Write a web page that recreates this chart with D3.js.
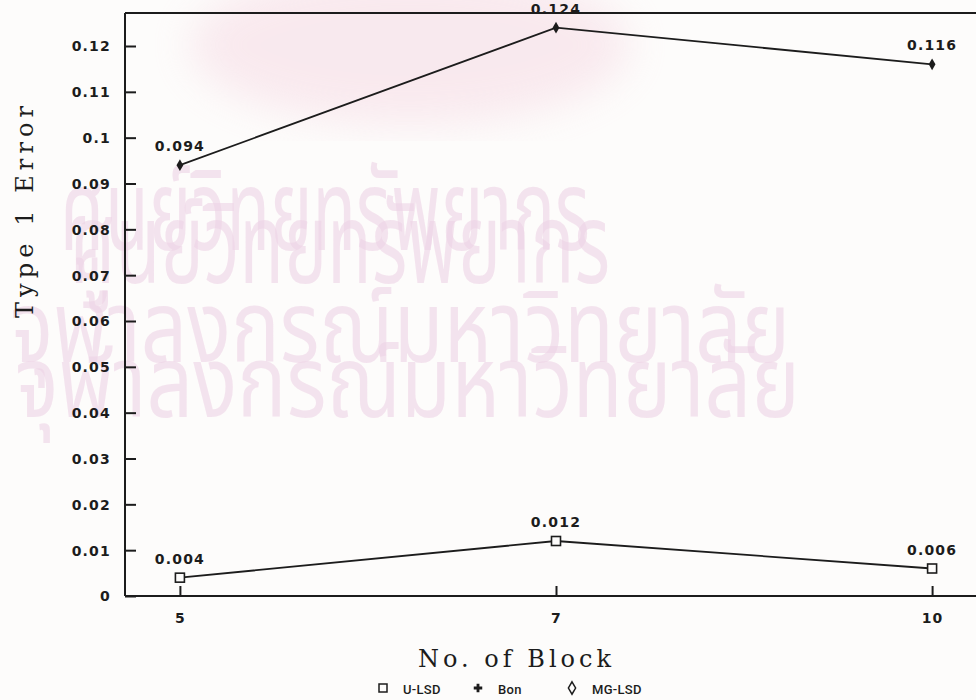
<!DOCTYPE html>
<html>
<head>
<meta charset="utf-8">
<script src="https://cdn.jsdelivr.net/npm/d3@7"></script>
<style>
  html, body { margin: 0; padding: 0; background: #fdfcfb; }
  svg { display: block; }
</style>
</head>
<body>
<svg id="chart" width="976" height="700"></svg>
<script>
// Number of blocks on the x axis
const blocks = ["5", "7", "10"];
// Type 1 error rates per method
const uLsd = [0.004, 0.012, 0.006];
const mgLsd = [0.094, 0.124, 0.116];
const bon = [];
// Y axis tick values
const yTicks = [0, 0.01, 0.02, 0.03, 0.04, 0.05, 0.06, 0.07, 0.08, 0.09, 0.1, 0.11, 0.12];
const legendItems = ["U-LSD", "Bon", "MG-LSD"];
// Background library stamp lines
const stampLines = ["ศูนย์วิทยทรัพยากร", "จุฬาลงกรณ์มหาวิทยาลัย"];

const svg = d3.select("#chart");
const W = 976, H = 700;
const plotLeft = 125, plotTop = 13, plotBottom = 596;

const x = d3.scalePoint().domain(blocks).range([plotLeft, 987]).padding(0.146);
const y = d3.scaleLinear().domain([0, 0.1272]).range([plotBottom, plotTop]);

// faint stamp behind the plot
const defs = svg.append("defs");
defs.append("filter").attr("id", "soft").append("feGaussianBlur").attr("stdDeviation", 20);
svg.append("ellipse").attr("cx", 410).attr("cy", 45).attr("rx", 220).attr("ry", 80)
  .attr("fill", "#f4d3df").attr("opacity", 0.45).attr("filter", "url(#soft)");

const stamp = svg.append("g").attr("fill", "#eed4e6").attr("font-family", "'Noto Sans Thai', 'Noto Sans', sans-serif");
[[0, 60, 250, 530, 112], [0, 70, 283, 540, 112], [1, 10, 362, 780, 100], [1, 15, 417, 785, 100]].forEach(([i, sx, sy, len, fs]) => {
  stamp.append("text").attr("x", sx).attr("y", sy).attr("font-size", fs)
    .attr("textLength", len).attr("lengthAdjust", "spacingAndGlyphs")
    .attr("opacity", 0.6).text(stampLines[i]);
});

const ink = "#1c1c1c";
const tickFont = "'DejaVu Sans', sans-serif";

// frame lines: top border, left and bottom axes
svg.append("line").attr("x1", plotLeft).attr("x2", W).attr("y1", plotTop).attr("y2", plotTop)
  .attr("stroke", ink).attr("stroke-width", 2);

const yAxis = svg.append("g").attr("transform", `translate(${plotLeft},0)`)
  .call(d3.axisRight(y).tickValues(yTicks).tickSize(11).tickFormat(d => d3.format("")(+d.toFixed(2))));
yAxis.select(".domain").attr("d", `M0,${plotTop}V${plotBottom}`);
yAxis.selectAll("text").attr("x", -14).attr("text-anchor", "end");

const xAxis = svg.append("g").attr("transform", `translate(0,${plotBottom})`)
  .call(d3.axisTop(x).tickSize(10));
xAxis.select(".domain").attr("d", `M${plotLeft},0H${W}`);
xAxis.selectAll("text").attr("y", 27);

[yAxis, xAxis].forEach(a => {
  a.selectAll(".domain, line").attr("stroke", ink).attr("stroke-width", 2);
  a.selectAll("text").attr("fill", ink).attr("font-family", tickFont).attr("font-weight", "bold")
    .attr("font-size", 14).attr("letter-spacing", 1.2);
});
yAxis.selectAll("text").attr("dy", "0.35em");

// series lines
const line = d3.line().x((d, i) => x(blocks[i])).y(d => y(d));
[mgLsd, uLsd].forEach(s => {
  svg.append("path").attr("d", line(s)).attr("fill", "none").attr("stroke", ink).attr("stroke-width", 1.8);
});

// MG-LSD markers: filled diamonds
svg.selectAll(".mg").data(mgLsd).join("path")
  .attr("transform", (d, i) => `translate(${x(blocks[i])},${y(d)})`)
  .attr("d", d3.symbol(d3.symbolDiamond, 40)).attr("fill", ink);

// U-LSD markers: open squares
svg.selectAll(".ul").data(uLsd).join("rect")
  .attr("x", (d, i) => x(blocks[i]) - 4.5).attr("y", d => y(d) - 4.5)
  .attr("width", 9).attr("height", 9).attr("fill", "#fdfcfb").attr("stroke", ink).attr("stroke-width", 1.6);

// value labels
const valueFmt = d3.format(".3f");
[mgLsd, uLsd].forEach(s => {
  svg.append("g").selectAll("text").data(s).join("text")
    .attr("x", (d, i) => x(blocks[i])).attr("y", d => y(d) - 14)
    .attr("text-anchor", "middle").attr("fill", ink).attr("font-family", tickFont)
    .attr("font-weight", "bold").attr("font-size", 14).attr("letter-spacing", 1.2)
    .text(d => valueFmt(d));
});

// axis titles
const slabFont = "'DejaVu Serif', 'Liberation Serif', serif";
svg.append("text").attr("x", 418).attr("y", 667)
  .attr("font-family", slabFont).attr("font-size", 24).attr("fill", ink)
  .attr("textLength", 193).attr("lengthAdjust", "spacing")
  .text("No. of Block");
svg.append("text").attr("transform", "translate(33,318) rotate(-90)")
  .attr("font-family", slabFont).attr("font-size", 24).attr("fill", ink)
  .attr("textLength", 212).attr("lengthAdjust", "spacing")
  .text("Type 1 Error");

// legend
const legend = svg.append("g").attr("font-family", "Roboto, sans-serif").attr("font-size", 13).attr("fill", ink);
const legendX = [383, 478, 572];
legend.append("rect").attr("x", legendX[0] - 4).attr("y", 684).attr("width", 8).attr("height", 8)
  .attr("fill", "none").attr("stroke", ink).attr("stroke-width", 1.5);
legend.append("path").attr("transform", `translate(${legendX[1]},688)`)
  .attr("d", d3.symbol(d3.symbolCross, 40)).attr("fill", ink);
legend.append("path").attr("transform", `translate(${legendX[2]},688)`)
  .attr("d", d3.symbol(d3.symbolDiamond, 45)).attr("fill", "none").attr("stroke", ink).attr("stroke-width", 1.5);
legendItems.forEach((t, i) => {
  legend.append("text").attr("x", legendX[i] + 20).attr("y", 694)
    .attr("font-weight", 500).attr("letter-spacing", 0.3).text(t);
});
</script>
</body>
</html>
